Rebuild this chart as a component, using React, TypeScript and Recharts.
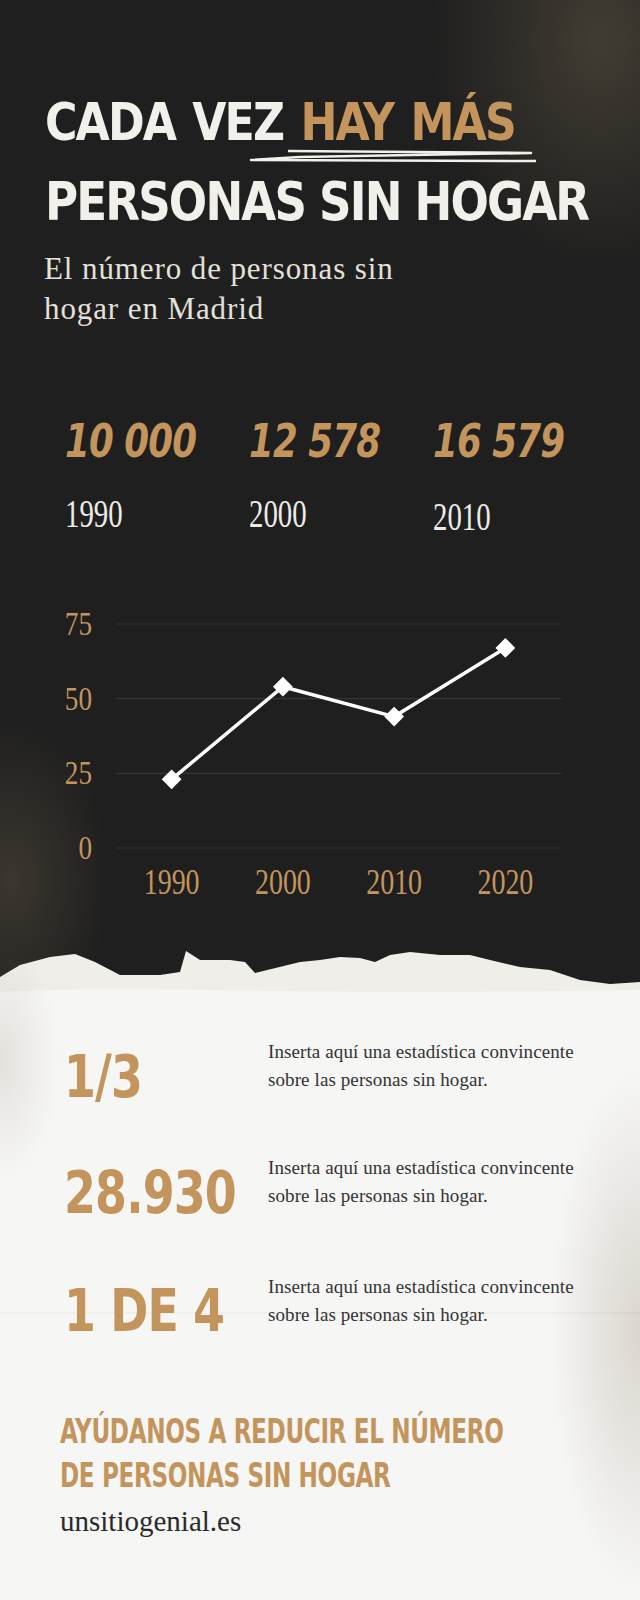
import React from 'react';
import { CartesianGrid, Line, LineChart, XAxis, YAxis } from 'recharts';

// line chart: people without a home, by decade
const years = ['1990', '2000', '2010', '2020'];
const values = [23, 54, 44, 67];
const yTicks = [0, 25, 50, 75];

// headline figures above the chart
const headlineNumbers = ['10 000', '12 578', '16 579'];
const headlineYears = ['1990', '2000', '2010'];

// statistic blocks on the light part
const statNumbers = ['1/3', '28.930', '1 DE 4'];
const statText = ['Inserta aquí una estadística convincente', 'sobre las personas sin hogar.'];

const chartData = years.map((year, i) => ({ year, value: values[i] }));

const GOLD = '#c3955c';
const DARK = '#1f1f1f';
const PAPER = '#f6f6f5';
const SERIF = '"Liberation Serif", "DejaVu Serif", serif';
const BRUSH = '"DejaVu Sans Condensed", "DejaVu Sans", sans-serif';

// squeezes a line of text horizontally, anchored on the left
const Squeezed = ({
  x,
  y,
  sx,
  style,
  children,
}: {
  x: number;
  y: number;
  sx: number;
  style: React.CSSProperties;
  children: React.ReactNode;
}) => (
  <div
    style={{
      position: 'absolute',
      left: x,
      top: y,
      whiteSpace: 'nowrap',
      lineHeight: 1,
      transform: `scaleX(${sx})`,
      transformOrigin: 'left top',
      ...style,
    }}
  >
    {children}
  </div>
);

const XTick = (props: any) => {
  const { x, y, payload } = props;
  return (
    <g transform={`translate(${x},${y}) scale(0.8,1)`}>
      <text x={0} y={0} dy={46} textAnchor="middle" fill={GOLD} fontFamily={SERIF} fontSize={35}>
        {payload.value}
      </text>
    </g>
  );
};

const YTick = (props: any) => {
  const { x, y, payload } = props;
  return (
    <g transform={`translate(${x},${y}) scale(0.8,1)`}>
      <text x={0} y={0} dy={11} textAnchor="end" fill={GOLD} fontFamily={SERIF} fontSize={34}>
        {payload.value}
      </text>
    </g>
  );
};

const Diamond = (props: any) => {
  const { cx, cy } = props;
  if (cx == null || cy == null) return null;
  return (
    <rect
      x={cx - 7}
      y={cy - 7}
      width={14}
      height={14}
      fill="#ffffff"
      transform={`rotate(45 ${cx} ${cy})`}
    />
  );
};

const TEAR =
  '0,977 20,965 50,957 75,954 95,962 120,975 160,975 180,972 186,951 200,960 230,960 245,962 255,973 ' +
  '300,962 320,960 340,957 360,958 375,962 390,955 410,952 440,955 470,955 490,960 520,967 550,970 ' +
  '580,980 610,984 640,982 640,1600 0,1600';

export default function App() {
  const statTops = [1043, 1159, 1278];
  const statNumTops = [1048, 1164, 1282];
  const numX = [65, 249, 433];

  return (
    <div
      style={{
        position: 'absolute',
        left: 0,
        top: 0,
        width: 640,
        height: 1600,
        overflow: 'hidden',
        background: DARK,
      }}
    >
      {/* grainy texture patches */}
      <div
        style={{
          position: 'absolute',
          inset: 0,
          background:
            'radial-gradient(ellipse 170px 230px at 600px 40px, rgba(190,165,120,0.22), rgba(190,165,120,0) 100%),' +
            'radial-gradient(ellipse 100px 160px at 10px 880px, rgba(190,165,120,0.18), rgba(190,165,120,0) 100%)',
        }}
      />

      {/* torn paper */}
      <svg width={640} height={1600} style={{ position: 'absolute', left: 0, top: 0 }}>
        <polygon points={TEAR} fill="#efeee9" />
        <rect x={0} y={992} width={640} height={608} fill={PAPER} />
        <path d="M0,992 C150,985 300,996 640,990 L640,998 L0,998 Z" fill={PAPER} />
        <line x1={0} y1={1313} x2={640} y2={1313} stroke="#ececea" strokeWidth={1.5} />
        <path
          d="M288 151 L531 153 L300 157 L251 160 L536 161"
          fill="none"
          stroke="#f2f0ea"
          strokeWidth={2.5}
          strokeLinejoin="round"
        />
      </svg>
      <div
        style={{
          position: 'absolute',
          inset: 0,
          background:
            'radial-gradient(ellipse 90px 260px at 640px 1330px, rgba(120,100,70,0.22), rgba(120,100,70,0) 100%),' +
            'radial-gradient(ellipse 60px 120px at 0px 1060px, rgba(120,100,70,0.14), rgba(120,100,70,0) 100%)',
          pointerEvents: 'none',
        }}
      />

      {/* title */}
      <Squeezed x={45} y={96} sx={0.945} style={{ fontFamily: BRUSH, fontWeight: 700, fontSize: 52, letterSpacing: -2, wordSpacing: 4, color: '#f2f0ea' }}>
        CADA VEZ <span style={{ color: GOLD }}>HAY MÁS</span>
      </Squeezed>
      <Squeezed x={45} y={175} sx={0.93} style={{ fontFamily: BRUSH, fontWeight: 700, fontSize: 54, letterSpacing: -2, color: '#f2f0ea' }}>
        PERSONAS SIN HOGAR
      </Squeezed>

      {/* subtitle */}
      <div
        style={{
          position: 'absolute',
          left: 44,
          top: 249,
          width: 420,
          fontFamily: SERIF,
          fontSize: 31,
          letterSpacing: 0.9,
          lineHeight: '40px',
          color: '#e4e1da',
        }}
      >
        El número de personas sin
        <br />
        hogar en Madrid
      </div>

      {/* headline figures */}
      {headlineNumbers.map((n, i) => (
        <Squeezed
          key={n}
          x={numX[i]}
          y={418}
          sx={0.86}
          style={{ fontFamily: BRUSH, fontWeight: 700, fontStyle: 'italic', fontSize: 46, letterSpacing: -1, color: GOLD }}
        >
          {n}
        </Squeezed>
      ))}
      {headlineYears.map((yr, i) => (
        <Squeezed
          key={yr}
          x={numX[i]}
          y={494 + (i === 2 ? 3 : 0)}
          sx={0.74}
          style={{ fontFamily: SERIF, fontSize: 39, color: '#ecebe6' }}
        >
          {yr}
        </Squeezed>
      ))}

      {/* chart */}
      <div style={{ position: 'absolute', left: 0, top: 600 }}>
        <LineChart width={640} height={310} data={chartData} margin={{ top: 24, right: 79, bottom: 0, left: 0 }}>
          <CartesianGrid stroke="#3a352d" strokeWidth={1.2} vertical={false} />
          <XAxis
            dataKey="year"
            scale="band"
            axisLine={false}
            tickLine={false}
            tickSize={0}
            tickMargin={0}
            height={62}
            tick={<XTick />}
            interval={0}
          />
          <YAxis
            domain={[0, 75]}
            ticks={yTicks}
            axisLine={false}
            tickLine={false}
            tickSize={0}
            tickMargin={24}
            width={116}
            tick={<YTick />}
          />
          <Line
            type="linear"
            dataKey="value"
            stroke="#ffffff"
            strokeWidth={3.5}
            dot={<Diamond />}
            activeDot={false}
            isAnimationActive={false}
          />
        </LineChart>
      </div>

      {/* statistics */}
      {statNumbers.map((n, i) => (
        <Squeezed
          key={n}
          x={64}
          y={statNumTops[i]}
          sx={0.88}
          style={{ fontFamily: BRUSH, fontWeight: 700, fontSize: 58, letterSpacing: -1, color: GOLD }}
        >
          {n}
        </Squeezed>
      ))}
      {statTops.map((t, i) => (
        <div
          key={i}
          style={{
            position: 'absolute',
            left: 268,
            top: t - 5,
            fontFamily: SERIF,
            fontSize: 19,
            letterSpacing: 0.1,
            lineHeight: '28px',
            color: '#333333',
            whiteSpace: 'nowrap',
          }}
        >
          {statText[0]}
          <br />
          {statText[1]}
        </div>
      ))}

      {/* call to action */}
      <Squeezed x={60} y={1415} sx={0.78} style={{ fontFamily: BRUSH, fontWeight: 700, fontSize: 33, letterSpacing: -0.5, color: GOLD }}>
        AYÚDANOS A REDUCIR EL NÚMERO
      </Squeezed>
      <Squeezed x={60} y={1459} sx={0.78} style={{ fontFamily: BRUSH, fontWeight: 700, fontSize: 33, letterSpacing: -0.5, color: GOLD }}>
        DE PERSONAS SIN HOGAR
      </Squeezed>
      <div
        style={{
          position: 'absolute',
          left: 60,
          top: 1507,
          fontFamily: SERIF,
          fontSize: 29,
          lineHeight: 1,
          color: '#2a2a2a',
        }}
      >
        unsitiogenial.es
      </div>
    </div>
  );
}
